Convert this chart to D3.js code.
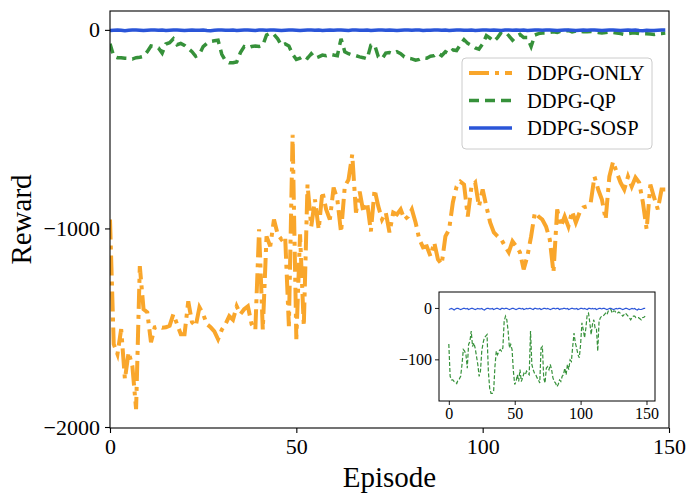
<!DOCTYPE html>
<html>
<head>
<meta charset="utf-8">
<script src="https://cdn.jsdelivr.net/npm/d3@7"></script>
<style>
  body { margin: 0; background: #fff; }
  svg text { font-family: "Liberation Serif", "Times New Roman", serif !important; fill: #000; }
</style>
</head>
<body>
<div id="chart"></div>
<script>
// reward per episode
var ddpgOnly = [
  -955, -1583, -1633, -1507, -1759, -1623, -1693, -1910, -1190, -1407,
  -1422, -1573, -1498, -1492, -1500, -1498, -1490, -1432, -1482, -1533,
  -1533, -1367, -1472, -1492, -1397, -1432, -1482, -1498, -1518, -1558,
  -1510, -1482, -1442, -1460, -1392, -1432, -1407, -1392, -1482, -1510,
  -1005, -1510, -1040, -1090, -955, -1030, -1055, -1040, -1492, -528,
  -1558, -1030, -1492, -779, -990, -854, -1005, -814, -904, -955,
  -794, -854, -1020, -789, -754, -628, -920, -814, -920, -869,
  -1015, -804, -889, -955, -920, -1020, -920, -930, -904, -955,
  -940, -904, -970, -1055, -1095, -1090, -1140, -1070, -1156, -1181,
  -1040, -1005, -869, -789, -764, -779, -940, -789, -769, -889,
  -804, -889, -970, -1020, -1040, -1055, -1090, -1120, -1065, -1090,
  -1120, -1206, -1140, -1040, -920, -940, -955, -990, -1055, -1221,
  -904, -990, -940, -990, -914, -970, -920, -894, -889, -869,
  -739, -804, -854, -955, -739, -663, -719, -769, -804, -739,
  -789, -744, -769, -869, -1005, -779, -844, -904, -804, -804
];

var ddpgQP = [
  -70, -133, -140, -140, -143, -144, -147, -140, -138, -133,
  -110, -81, -84, -91, -117, -71, -65, -45, -75, -68,
  -78, -94, -110, -133, -123, -84, -68, -58, -55, -52,
  -123, -156, -166, -166, -162, -114, -84, -91, -84, -81,
  -84, -78, -26, -16, -23, -45, -78, -71, -81, -123,
  -149, -143, -130, -143, -120, -143, -136, -127, -130, -123,
  -127, -130, -45, -110, -120, -127, -130, -136, -140, -146,
  -78, -75, -136, -146, -117, -114, -120, -110, -120, -136,
  -143, -146, -153, -149, -140, -143, -133, -130, -117, -130,
  -110, -120, -101, -104, -75, -49, -68, -78, -91, -97,
  -71, -29, -42, -58, -39, -13, -10, -29, -52, -32,
  -23, -39, -39, -84, -26, -19, -16, -16, -13, -10,
  -13, -6, -6, -3, -10, -6, -6, -10, -10, -8,
  -10, -13, -16, -13, -10, -13, -16, -19, -23, -19,
  -16, -16, -19, -19, -19, -21, -23, -19, -18, -16
];

var ddpgSOSP = [
  -3, -2, -1, -2, -4, -2, -1, -1, -2, -3,
  -2, -1, -1, -2, -1, -3, -2, -1, -1, -2,
  -3, -2, -1, -2, -2, -1, -3, -4, -2, -1,
  -1, -2, -2, -1, -3, -2, -1, -1, -2, -3,
  -1, -1, -2, -1, -1, -2, -3, -2, -1, -1,
  -2, -3, -2, -1, -1, -2, -1, -3, -2, -1,
  -2, -1, -1, -2, -3, -1, -1, -2, -2, -1,
  -3, -2, -1, -1, -2, -1, -2, -3, -2, -1,
  -1, -2, -1, -1, -3, -2, -2, -1, -1, -2,
  -1, -3, -2, -1, -1, -2, -2, -1, -3, -2,
  -1, -1, -2, -1, -2, -3, -1, -1, -2, -1,
  -2, -1, -3, -2, -1, -1, -2, -1, -1, -2,
  -3, -2, -1, -1, -2, -3, -2, -1, -2, -1,
  -1, -2, -3, -2, -1, -1, -2, -3, -2, -1,
  -2, -1, -3, -4, -2, -3, -3, -2, -1, -1
];

var seriesNames = ["DDPG-ONLY", "DDPG-QP", "DDPG-SOSP"];
var xTicks = [0, 50, 100, 150];
var yTicks = [0, -1000, -2000];
var insetXTicks = [0, 50, 100, 150];
var insetYTicks = [0, -100];

var width = 698, height = 503;
var colors = ["#f9a62b", "#36913a", "#2a55d8"];
var serif = '"Liberation Serif", "Times New Roman", serif';

var svg = d3.select("#chart")
    .append("svg")
    .attr("width", width)
    .attr("height", height);

// main axes box
var plot = { left: 110, right: 669, top: 11, bottom: 428 };

var x = d3.scaleLinear().domain([0, 150]).range([plot.left, plot.right]);
var y = d3.scaleLinear().domain([-2005, 95]).range([plot.bottom, plot.top]);

svg.append("clipPath")
    .attr("id", "mainClip")
    .append("rect")
    .attr("x", plot.left)
    .attr("y", plot.top)
    .attr("width", plot.right - plot.left)
    .attr("height", plot.bottom - plot.top);

var line = d3.line()
    .x((d, i) => x(i))
    .y((d) => y(d));

var mainG = svg.append("g").attr("clip-path", "url(#mainClip)");

mainG.append("path")
    .datum(ddpgOnly)
    .attr("d", line)
    .attr("fill", "none")
    .attr("stroke", colors[0])
    .attr("stroke-width", 4)
    .attr("stroke-dasharray", "20,6,4,6");

mainG.append("path")
    .datum(ddpgQP)
    .attr("d", line)
    .attr("fill", "none")
    .attr("stroke", colors[1])
    .attr("stroke-width", 3.5)
    .attr("stroke-dasharray", "10,6");

mainG.append("path")
    .datum(ddpgSOSP)
    .attr("d", line)
    .attr("fill", "none")
    .attr("stroke", colors[2])
    .attr("stroke-width", 3.5);

// axes
var xAxis = svg.append("g")
    .attr("transform", `translate(0, ${plot.bottom})`)
    .call(d3.axisBottom(x).tickValues(xTicks).tickSize(5).tickPadding(5).tickFormat(d3.format("d")));

var yAxis = svg.append("g")
    .attr("transform", `translate(${plot.left}, 0)`)
    .call(d3.axisLeft(y).tickValues(yTicks).tickSize(5).tickPadding(5).tickFormat(d3.format("d")));

[xAxis, yAxis].forEach(function (a) {
    a.attr("font-family", serif);
    a.select(".domain").remove();
    a.selectAll("line").attr("stroke", "#000").attr("stroke-width", 1.1);
    a.selectAll("text").style("font-size", "22px").style("font-family", serif);
});

svg.append("rect")
    .attr("x", plot.left)
    .attr("y", plot.top)
    .attr("width", plot.right - plot.left)
    .attr("height", plot.bottom - plot.top)
    .attr("fill", "none")
    .attr("stroke", "#000")
    .attr("stroke-width", 1.1);

svg.append("text")
    .attr("x", (plot.left + plot.right) / 2)
    .attr("y", 487)
    .attr("text-anchor", "middle")
    .style("font-size", "29px")
    .text("Episode");

svg.append("text")
    .attr("transform", `translate(31, ${(plot.top + plot.bottom) / 2}) rotate(-90)`)
    .attr("text-anchor", "middle")
    .style("font-size", "29px")
    .text("Reward");

// legend
var legend = svg.append("g");
legend.append("rect")
    .attr("x", 462)
    .attr("y", 58)
    .attr("width", 190)
    .attr("height", 91)
    .attr("rx", 4)
    .attr("fill", "#fff")
    .attr("fill-opacity", 0.8)
    .attr("stroke", "#cccccc")
    .attr("stroke-width", 1);

var dashes = ["20,6,4,6", "10,6", null];
var widths = [4, 3.5, 3.5];
seriesNames.forEach(function (name, i) {
    var ly = 73 + i * 27.5;
    legend.append("line")
        .attr("x1", 469)
        .attr("x2", 512)
        .attr("y1", ly)
        .attr("y2", ly)
        .attr("stroke", colors[i])
        .attr("stroke-width", widths[i])
        .attr("stroke-dasharray", dashes[i]);
    legend.append("text")
        .attr("x", 527)
        .attr("y", ly + 7)
        .style("font-size", "20.5px")
        .style("font-family", serif)
        .text(name);
});

// inset zoom on QP and SOSP
var inset = { left: 439, right: 655, top: 292, bottom: 401 };
var ix = d3.scaleLinear().domain([-7.45, 156.45]).range([inset.left, inset.right]);
var iy = d3.scaleLinear().domain([-181, 31]).range([inset.bottom, inset.top]);

svg.append("rect")
    .attr("x", inset.left)
    .attr("y", inset.top)
    .attr("width", inset.right - inset.left)
    .attr("height", inset.bottom - inset.top)
    .attr("fill", "#fff");

var iline = d3.line()
    .x((d, i) => ix(i))
    .y((d) => iy(d));

svg.append("path")
    .datum(ddpgQP)
    .attr("d", iline)
    .attr("fill", "none")
    .attr("stroke", colors[1])
    .attr("stroke-width", 1.2)
    .attr("stroke-dasharray", "4,2");

svg.append("path")
    .datum(ddpgSOSP)
    .attr("d", iline)
    .attr("fill", "none")
    .attr("stroke", colors[2])
    .attr("stroke-width", 1.2);

var ixAxis = svg.append("g")
    .attr("transform", `translate(0, ${inset.bottom})`)
    .call(d3.axisBottom(ix).tickValues(insetXTicks).tickSize(4).tickPadding(3).tickFormat(d3.format("d")));

var iyAxis = svg.append("g")
    .attr("transform", `translate(${inset.left}, 0)`)
    .call(d3.axisLeft(iy).tickValues(insetYTicks).tickSize(4).tickPadding(3).tickFormat(d3.format("d")));

[ixAxis, iyAxis].forEach(function (a) {
    a.attr("font-family", serif);
    a.select(".domain").remove();
    a.selectAll("line").attr("stroke", "#000").attr("stroke-width", 0.9);
    a.selectAll("text").style("font-size", "16px").style("font-family", serif);
});

svg.append("rect")
    .attr("x", inset.left)
    .attr("y", inset.top)
    .attr("width", inset.right - inset.left)
    .attr("height", inset.bottom - inset.top)
    .attr("fill", "none")
    .attr("stroke", "#000")
    .attr("stroke-width", 1);
</script>
</body>
</html>
